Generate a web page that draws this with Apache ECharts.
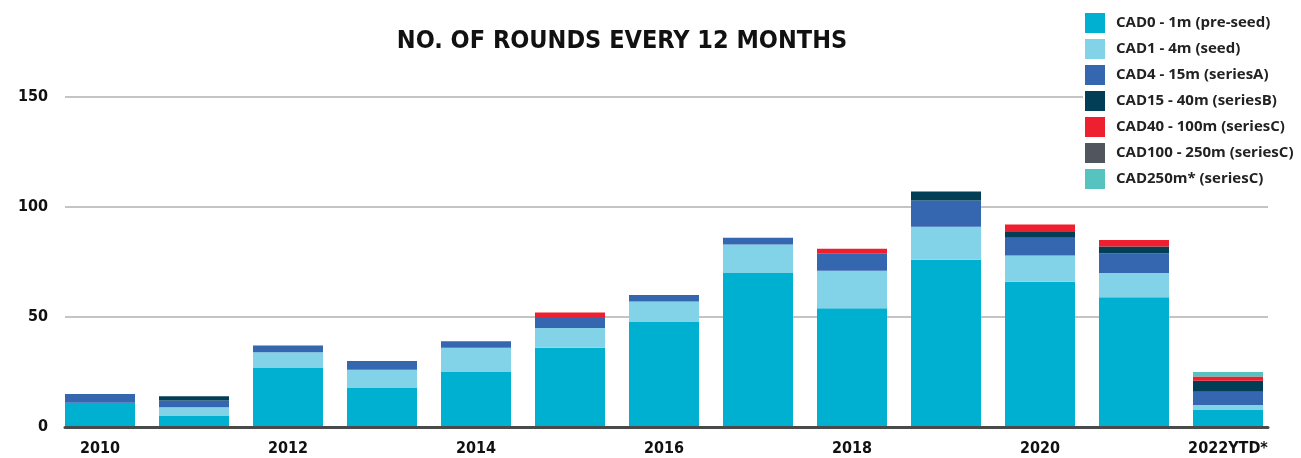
<!DOCTYPE html>
<html>
<head>
<meta charset="utf-8">
<title>No. of rounds every 12 months</title>
<script src="https://cdn.jsdelivr.net/npm/echarts@6/dist/echarts.min.js"></script>
<style>
  html, body { margin: 0; padding: 0; background: #fff; }
  #main { width: 1301px; height: 458px; }
</style>
</head>
<body>
<div id="main"></div>
<script>
// 数据
var years = ['2010', '2011', '2012', '2013', '2014', '2015', '2016', '2017', '2018', '2019', '2020', '2021', '2022YTD*'];
var seriesNames = ['CAD0 - 1m (pre-seed)', 'CAD1 - 4m (seed)', 'CAD4 - 15m (seriesA)', 'CAD15 - 40m (seriesB)',
    'CAD40 - 100m (seriesC)', 'CAD100 - 250m (seriesC)', 'CAD250m* (seriesC)'];
var preSeed  = [11, 5, 27, 18, 25, 36, 48, 70, 54, 76, 66, 59, 8];
var seed     = [0, 4, 7, 8, 11, 9, 9, 13, 17, 15, 12, 11, 2];
var seriesA  = [4, 3, 3, 4, 3, 5, 3, 3, 8, 12, 8, 9, 6];
var seriesB  = [0, 2, 0, 0, 0, 0, 0, 0, 0, 4, 3, 3, 5];
var seriesC  = [0, 0, 0, 0, 0, 2, 0, 0, 2, 0, 3, 3, 2];
var seriesC2 = [0, 0, 0, 0, 0, 0, 0, 0, 0, 0, 0, 0, 0];
var seriesC3 = [0, 0, 0, 0, 0, 0, 0, 0, 0, 0, 0, 0, 2];
var yTicks = [0, 50, 100, 150];

var colors = ['#00b0d0', '#83d3e8', '#3566b0', '#033e57', '#ee1f2e', '#50555e', '#56c3c0'];
var condensed = "'Liberation Sans Narrow', 'DejaVu Sans Condensed', sans-serif";

var myChart = echarts.init(document.getElementById('main'));

var allData = [preSeed, seed, seriesA, seriesB, seriesC, seriesC2, seriesC3];
var series = allData.map(function (d, i) {
    return {
        name: seriesNames[i],
        type: 'bar',
        stack: 'total',
        barWidth: 70,
        xAxisIndex: 0,
        yAxisIndex: 0,
        itemStyle: { color: colors[i] },
        data: d
    };
});

var option = {
    animation: false,
    color: colors,
    title: {
        text: 'NO. OF ROUNDS EVERY 12 MONTHS',
        left: 622,
        top: 29,
        textAlign: 'center',
        padding: 0,
        textStyle: { fontFamily: condensed, fontSize: 25, fontWeight: 'bold', color: '#111' }
    },
    legend: {
        orient: 'vertical',
        left: 1083,
        top: 11,
        padding: [2, 6, 2, 2],
        backgroundColor: '#fff',
        icon: 'rect',
        itemWidth: 20,
        itemHeight: 20,
        itemGap: 6,
        data: seriesNames,
        textStyle: { fontFamily: "'Open Sans', sans-serif", fontSize: 15, fontWeight: 'bold', color: '#222', padding: [0, 0, 0, 6] }
    },
    grid: [
        // bars
        { left: 53, right: 26, top: 97, bottom: 31 },
        // gridlines + baseline
        { left: 65, right: 33, top: 97, bottom: 31 }
    ],
    xAxis: [
        {
            type: 'category',
            gridIndex: 0,
            data: years,
            axisLine: { show: false },
            axisTick: { show: false },
            axisLabel: {
                interval: 1,
                margin: 14,
                fontFamily: condensed, fontSize: 16, fontWeight: 'bold', color: '#111'
            }
        },
        {
            type: 'value',
            gridIndex: 1,
            min: 0, max: 1,
            z: 5,
            axisLine: { show: true, lineStyle: { color: '#4a4a4a', width: 3 } },
            axisTick: { show: false },
            axisLabel: { show: false },
            splitLine: { show: false }
        }
    ],
    yAxis: [
        {
            type: 'value',
            gridIndex: 0,
            min: 0, max: 150, interval: 50,
            show: false,
            splitLine: { show: false }
        },
        {
            type: 'value',
            gridIndex: 1,
            min: yTicks[0], max: yTicks[yTicks.length - 1], interval: 50,
            axisLine: { show: false },
            axisTick: { show: false },
            axisLabel: {
                margin: 17,
                fontFamily: condensed, fontSize: 16, fontWeight: 'bold', color: '#111'
            },
            splitLine: { lineStyle: { color: '#c4c4c4', width: 2 } }
        }
    ],
    series: series
};

myChart.setOption(option);
</script>
</body>
</html>
